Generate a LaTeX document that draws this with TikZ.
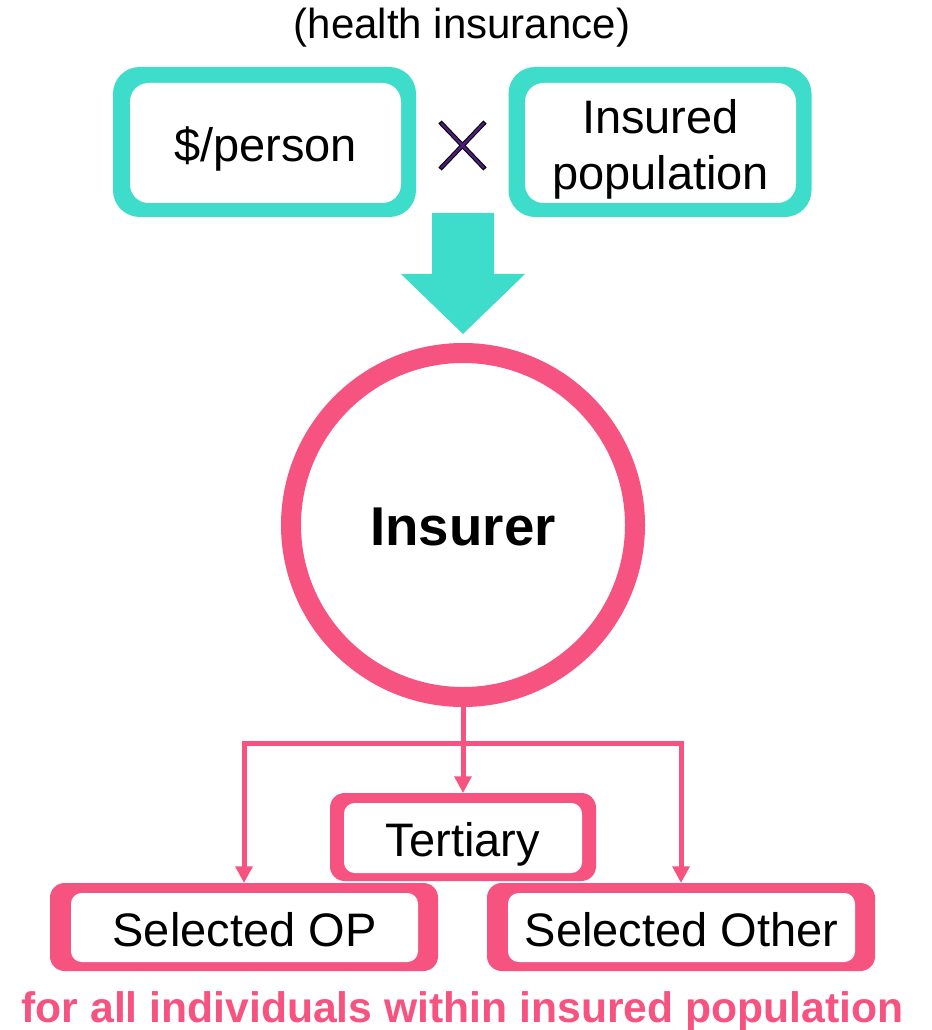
\documentclass[tikz,border=0pt]{standalone}
\usepackage{fontspec}
\setmainfont{Liberation Sans}
\usetikzlibrary{arrows.meta}
\definecolor{teal1}{RGB}{62,220,202}
\definecolor{pink1}{RGB}{246,83,128}
\definecolor{crossp}{RGB}{80,28,125}
\begin{document}
\begin{tikzpicture}[x=0.75pt,y=-0.75pt,
  txt/.style={font=\fontsize{35.25pt}{42pt}\selectfont, text height=27.75pt, text depth=0pt, align=center},
  tealout/.style={fill=teal1, rounded corners=20pt, minimum width=227.25pt, minimum height=112.5pt, inner sep=0pt, outer sep=0pt},
  tealin/.style={fill=white, rounded corners=14pt, minimum width=203.25pt, minimum height=90pt, inner sep=0pt, txt},
  pinkout/.style={fill=pink1, rounded corners=11pt, minimum width=291pt, minimum height=66pt, inner sep=0pt, outer sep=0pt},
  pinkin/.style={fill=white, rounded corners=8pt, minimum width=260.25pt, minimum height=51.75pt, inner sep=0pt, txt},
  conn/.style={draw=pink1, line width=3.75pt, -{Triangle[length=12.5pt,width=12.5pt]}}
]
\useasboundingbox (0,0) rectangle (931,1030);

% title
\node[anchor=base, font=\fontsize{31.5pt}{36pt}\selectfont] (title) at (462,39) {(health insurance)};

% teal boxes
\node[tealout] (pp) at (264.5,142) {};
\node[tealin] (ppin) at (265.5,143) {\$/person};
\node[tealout] (pop) at (660,142) {};
\node[tealin, text height=69.75pt] (popin) at (660.5,143) {Insured\\population};

% multiplication cross
\draw[line width=3.4pt, black] (440,122) -- (485,169) (485,122) -- (440,169);
\draw[line width=1.8pt, crossp] (441,123) -- (484,168) (484,123) -- (441,168);

% block arrow
\fill[teal1] (432,213) -- (494,213) -- (494,274) -- (525,274) -- (463,334) -- (401,274) -- (432,274) -- cycle;

% insurer circle
\node[circle, draw=pink1, fill=white, line width=15pt, minimum size=258pt, inner sep=0pt,
      font=\bfseries\fontsize{41pt}{49pt}\selectfont, text height=31pt, text depth=0pt] (ins) at (463,525) {Insurer};

% pink boxes
\node[pinkout, minimum width=199.5pt] (ter) at (463,837) {};
\node[pinkin, minimum width=178.5pt, minimum height=52.5pt] (terin) at (463,838) {Tertiary};
\node[pinkout] (op) at (244,927) {};
\node[pinkin] (opin) at (244.5,927.5) {Selected OP};
\node[pinkout] (oth) at (681,927) {};
\node[pinkin] (othin) at (681.5,927.5) {Selected Other};

% connectors
\coordinate (j) at (463,743);
\draw[conn] (ins.south) -- (ter.north);
\draw[conn] (j) -| (op.north);
\draw[conn] (j) -| (oth.north);

% footnote
\node[anchor=base, text=pink1, font=\bfseries\fontsize{32pt}{38pt}\selectfont] (note) at (462.5,1022) {for all individuals within insured population};
\end{tikzpicture}
\end{document}
